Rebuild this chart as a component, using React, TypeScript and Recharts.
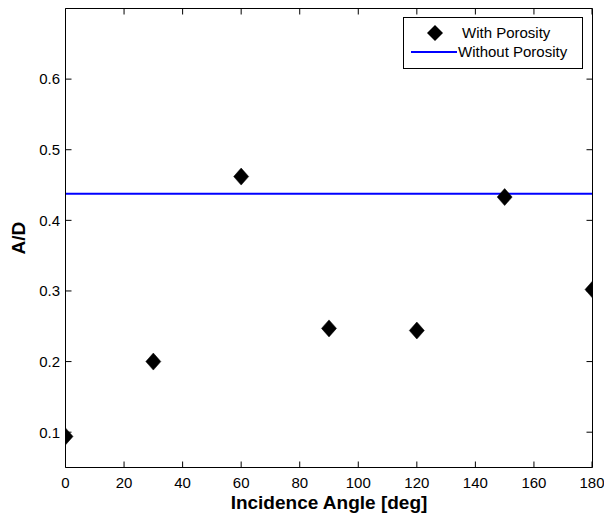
import React from 'react';
import { ComposedChart, Scatter, Line, XAxis, YAxis, Legend } from 'recharts';

const angles = [0, 30, 60, 90, 120, 150, 180];
const withPorosity = [0.094, 0.2, 0.462, 0.247, 0.244, 0.433, 0.302];
const withoutPorosityValue = 0.4375;
const lineAngles = [0, 180];
const xTicks = [0, 20, 40, 60, 80, 100, 120, 140, 160, 180];
const yTicks = [0.1, 0.2, 0.3, 0.4, 0.5, 0.6];
const seriesNames = ['With Porosity', 'Without Porosity'];

const scatterData = angles.map((a, i) => ({ x: a, y: withPorosity[i] }));
const lineData = lineAngles.map((a) => ({ x: a, y: withoutPorosityValue }));

const FONT = '"Liberation Sans", Arial, Helvetica, sans-serif';
const TICK_LEN = 6;

const Diamond = (props: any) => {
  const { cx, cy } = props;
  if (cx == null || cy == null) return null;
  const hw = 7.5;
  const hh = 8.5;
  return (
    <polygon
      points={`${cx},${cy - hh} ${cx + hw},${cy} ${cx},${cy + hh} ${cx - hw},${cy}`}
      fill="#000"
      stroke="#000"
      strokeWidth={0.5}
    />
  );
};

const BottomTick = (props: any) => {
  const { x, y, payload } = props;
  return (
    <g>
      <line x1={x} x2={x} y1={y} y2={y - TICK_LEN} stroke="#000" strokeWidth={1} />
      <text x={x} y={y + 20} textAnchor="middle" fontSize={15} fill="#000" fontFamily={FONT}>
        {payload.value}
      </text>
    </g>
  );
};

const TopTick = (props: any) => {
  const { x, y } = props;
  return <line x1={x} x2={x} y1={y} y2={y + TICK_LEN} stroke="#000" strokeWidth={1} />;
};

const LeftTick = (props: any) => {
  const { x, y, payload } = props;
  return (
    <g>
      <line x1={x} x2={x + TICK_LEN} y1={y} y2={y} stroke="#000" strokeWidth={1} />
      <text x={x - 5.5} y={y} dy="0.355em" textAnchor="end" fontSize={15} fill="#000" fontFamily={FONT}>
        {String(payload.value)}
      </text>
    </g>
  );
};

const RightTick = (props: any) => {
  const { x, y } = props;
  return <line x1={x} x2={x - TICK_LEN} y1={y} y2={y} stroke="#000" strokeWidth={1} />;
};

const LegendBox = () => (
  <svg width={180} height={52} style={{ display: 'block', fontFamily: FONT }}>
    <rect x={0.5} y={0.5} width={179} height={51} fill="#fff" stroke="#000" strokeWidth={1} />
    <polygon points="32,8 40,16 32,24 24,16" fill="#000" />
    <text x={59} y={16} dy="0.355em" fontSize={15} fill="#000">
      {seriesNames[0]}
    </text>
    <line x1={8} x2={54} y1={35} y2={35} stroke="#0000ff" strokeWidth={2} />
    <text x={55} y={35} dy="0.355em" fontSize={15} fill="#000">
      {seriesNames[1]}
    </text>
  </svg>
);

export default function App() {
  return (
    <div style={{ width: 604, height: 519, fontFamily: FONT, background: '#fff', overflow: 'hidden' }}>
      <style>{`html,body{margin:0;padding:0;background:#fff;overflow:hidden}`}</style>
      <ComposedChart
        width={604}
        height={519}
        margin={{ top: 7.5, right: 10.5, bottom: 0, left: 0 }}
        style={{ background: '#fff' }}
      >
        <XAxis
          dataKey="x"
          type="number"
          domain={[0, 180]}
          ticks={xTicks}
          allowDataOverflow
          height={51.5}
          stroke="#000"
          tickSize={0}
          tickMargin={0}
          tickLine={false}
          tick={(p: any) => <BottomTick {...p} />}
          axisLine={{ stroke: '#000' }}
          label={{
            value: 'Incidence Angle [deg]',
            position: 'insideBottom',
            offset: 10,
            style: { fontSize: 19, fontWeight: 'bold', fill: '#000', fontFamily: FONT },
          }}
        />
        <XAxis
          xAxisId="top"
          orientation="top"
          dataKey="x"
          type="number"
          domain={[0, 180]}
          ticks={xTicks}
          allowDataOverflow
          height={1}
          stroke="#000"
          tickSize={0}
          tickMargin={0}
          tickLine={false}
          tick={(p: any) => <TopTick {...p} />}
          axisLine={{ stroke: '#000' }}
        />
        <YAxis
          dataKey="y"
          type="number"
          domain={[0.05, 0.7]}
          ticks={yTicks}
          allowDataOverflow
          width={65.5}
          stroke="#000"
          tickSize={0}
          tickMargin={0}
          tickLine={false}
          tick={(p: any) => <LeftTick {...p} />}
          axisLine={{ stroke: '#000' }}
          label={{
            value: 'A/D',
            angle: -90,
            position: 'insideLeft',
            offset: 18,
            style: { textAnchor: 'middle', fontSize: 19, fontWeight: 'bold', fill: '#000', fontFamily: FONT },
          }}
        />
        <YAxis
          yAxisId="right"
          orientation="right"
          dataKey="y"
          type="number"
          domain={[0.05, 0.7]}
          ticks={yTicks}
          allowDataOverflow
          width={1}
          stroke="#000"
          tickSize={0}
          tickMargin={0}
          tickLine={false}
          tick={(p: any) => <RightTick {...p} />}
          axisLine={{ stroke: '#000' }}
        />
        <Line
          data={lineData}
          dataKey="y"
          name={seriesNames[1]}
          stroke="#0000ff"
          strokeWidth={2}
          dot={false}
          activeDot={false}
          isAnimationActive={false}
        />
        <Scatter
          data={scatterData}
          dataKey="y"
          name={seriesNames[0]}
          fill="#000"
          shape={<Diamond />}
          isAnimationActive={false}
        />
        <Legend
          layout="horizontal"
          verticalAlign="middle"
          align="center"
          content={() => <LegendBox />}
          wrapperStyle={{ top: 17, left: 403, width: 180, height: 52 }}
        />
      </ComposedChart>
    </div>
  );
}
